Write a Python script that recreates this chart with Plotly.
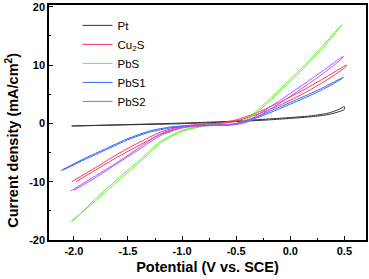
import plotly.graph_objects as go

# ---- data (potential V vs SCE, current density mA/cm^2), forward + return scans ----
pt_x = [-2.02, -1.5, -1.0, -0.5, -0.2, 0.0, 0.2, 0.35, 0.45, 0.5,
        0.5, 0.45, 0.35, 0.2, 0.0, -0.2, -0.5, -1.0, -1.5, -2.02]
pt_y = [-0.45, -0.25, -0.05, 0.3, 0.6, 0.85, 1.15, 1.5, 2.0, 2.4,
        2.9, 2.4, 1.75, 1.3, 1.0, 0.75, 0.4, 0.05, -0.2, -0.45]

cu2s_x = [-2.02, -1.8, -1.6, -1.4, -1.2, -1.0, -0.8, -0.65, -0.5, -0.3, -0.1, 0.1, 0.3, 0.52,
          0.5, 0.3, 0.1, -0.1, -0.3, -0.5, -0.65, -0.8, -1.0, -1.2, -1.4, -1.6, -1.8, -1.98]
cu2s_y = [-10.0, -7.6, -5.3, -3.3, -1.5, -0.5, -0.1, 0.05, 0.6, 1.9, 3.6, 5.5, 7.6, 10.0,
          9.5, 7.0, 4.9, 3.1, 1.6, 0.4, -0.05, -0.2, -0.7, -1.9, -3.8, -5.8, -8.0, -10.0]

pbs_x = [-2.03, -1.8, -1.6, -1.4, -1.2, -1.0, -0.8, -0.6, -0.5, -0.4, -0.3, -0.1, 0.1, 0.3, 0.48,
         0.46, 0.3, 0.1, -0.1, -0.3, -0.4, -0.5, -0.6, -0.8, -1.0, -1.2, -1.4, -1.6, -1.8, -2.01]
pbs_y = [-16.9, -13.3, -10.0, -6.8, -3.4, -1.4, -0.5, -0.3, -0.15, 0.6, 2.0, 5.4, 9.0, 12.9, 16.9,
         16.6, 13.3, 9.4, 5.8, 2.3, 0.8, -0.05, -0.2, -0.4, -1.2, -3.1, -6.4, -9.6, -12.9, -16.8]

pbs1_x = [-2.12, -1.9, -1.7, -1.5, -1.3, -1.1, -0.9, -0.7, -0.55, -0.45, -0.3, -0.1, 0.1, 0.3, 0.49,
          0.48, 0.3, 0.1, -0.1, -0.3, -0.45, -0.55, -0.7, -0.9, -1.1, -1.3, -1.5, -1.7, -1.9, -2.1]
pbs1_y = [-8.1, -6.0, -4.3, -2.6, -1.3, -0.6, -0.35, -0.3, -0.2, 0.2, 1.2, 2.8, 4.4, 6.1, 7.9,
          7.7, 5.8, 4.1, 2.5, 1.0, 0.1, -0.25, -0.35, -0.45, -0.75, -1.5, -2.8, -4.5, -6.2, -8.0]

pbs2_x = [-2.03, -1.8, -1.6, -1.4, -1.2, -1.0, -0.8, -0.6, -0.5, -0.4, -0.3, -0.1, 0.1, 0.3, 0.49,
          0.47, 0.3, 0.1, -0.1, -0.3, -0.4, -0.5, -0.6, -0.8, -1.0, -1.2, -1.4, -1.6, -1.8, -2.0]
pbs2_y = [-11.6, -9.0, -6.7, -4.2, -1.8, -0.6, -0.3, -0.2, -0.1, 0.4, 1.5, 3.9, 6.4, 9.0, 11.5,
          11.0, 8.5, 5.9, 3.4, 1.2, 0.2, -0.2, -0.3, -0.4, -0.8, -2.1, -4.5, -6.9, -9.3, -11.5]

names = ["Pt", "Cu<sub>2</sub>S", "PbS", "PbS1", "PbS2"]
colors = ["#333333", "#ff3355", "#66ee33", "#3366ff", "#b055ff"]
series = [(pt_x, pt_y), (cu2s_x, cu2s_y), (pbs_x, pbs_y), (pbs1_x, pbs1_y), (pbs2_x, pbs2_y)]

x_ticks = [-2.0, -1.5, -1.0, -0.5, 0.0, 0.5]
x_ticktext = ["-2.0", "-1.5", "-1.0", "-0.5", "0.0", "0.5"]
x_minor = [-1.75, -1.25, -0.75, -0.25, 0.25]
y_ticks = [-20, -10, 0, 10, 20]
y_ticktext = ["-20", "-10", "0", "10", "20"]
y_minor = [-15, -5, 5, 15]

FONT = "Arial, Liberation Sans, sans-serif"

fig = go.Figure()
for (xs, ys), n, c in zip(series, names, colors):
    fig.add_trace(go.Scatter(x=xs, y=ys, mode="lines", name=n,
                             line=dict(color=c, width=1, shape="spline", smoothing=0.6)))

axis_common = dict(showline=True, linecolor="black", linewidth=1.5, mirror=True,
                   ticks="inside", ticklen=4, tickcolor="black", tickwidth=1,
                   showgrid=False, zeroline=False, automargin=False,
                   tickfont=dict(family=FONT, size=11, color="black", weight="bold"))

fig.update_layout(
    width=369, height=279,
    margin=dict(l=49, r=3, t=5, b=39),
    paper_bgcolor="white", plot_bgcolor="white",
    font=dict(family=FONT, color="black"),
    showlegend=True,
    legend=dict(x=0.09, y=0.975, xanchor="left", yanchor="top",
                bgcolor="rgba(0,0,0,0)", font=dict(family=FONT, size=11.5, color="black"),
                itemwidth=30, tracegroupgap=0),
    xaxis=dict(range=[-2.23, 0.70], tickvals=x_ticks, ticktext=x_ticktext,
               minor=dict(tickvals=x_minor, ticks="inside", ticklen=2, tickcolor="black"),
               title=dict(text="Potential (V vs. SCE)", standoff=6,
                          font=dict(family=FONT, size=14.5, color="black", weight="bold")),
               **axis_common),
    yaxis=dict(range=[-20, 20.3], tickvals=y_ticks, ticktext=y_ticktext,
               minor=dict(tickvals=y_minor, ticks="inside", ticklen=2, tickcolor="black"),
               **axis_common),
    annotations=[dict(text="Current density (mA/cm<sup>2</sup>)", textangle=-90,
                      xref="paper", yref="paper", x=-0.117, y=0.426,
                      xanchor="center", yanchor="middle", showarrow=False,
                      font=dict(family=FONT, size=14.5, color="black", weight="bold"))],
)

fig.write_html("out.html", config={"displayModeBar": False},
               post_script="document.body.style.margin='0';document.body.style.padding='0';")
